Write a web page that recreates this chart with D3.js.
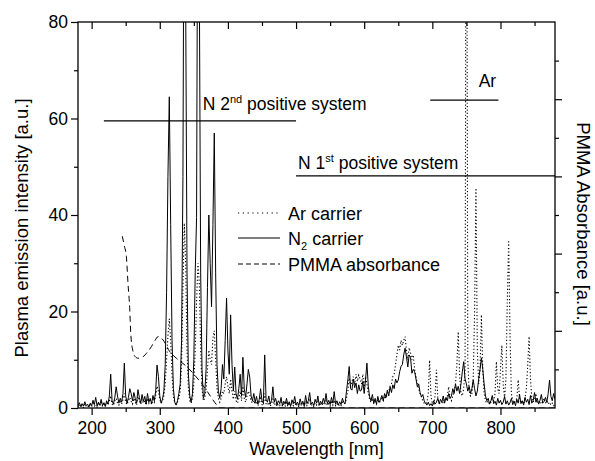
<!DOCTYPE html>
<html>
<head>
<meta charset="utf-8">
<script src="https://cdn.jsdelivr.net/npm/d3@7"></script>
<style>
  body { margin: 0; background: #fff; }
  svg { display: block; font-family: "Liberation Sans", Arial, sans-serif; }
</style>
</head>
<body>
<svg id="chart" width="595" height="461"></svg>
<script>
// wavelength [nm], intensity [a.u.]
let n2Carrier = [
  [180,0.6],[182,1.1],[184,0.3],[186,0.9],[188,0.4],[190,1.3],[192,0.5],[194,0.8],[196,0.2],[198,1.0],
  [200,0.5],[202,1.6],[204,0.7],[206,2.2],[208,0.4],[210,1.2],[212,0.6],[214,1.8],[216,0.5],[218,1.1],
  [220,0.3],[222,1.5],[224,0.8],[226,2.5],[228,7.0],[230,1.5],[232,0.8],[234,2.2],[236,4.4],[238,2.5],
  [240,1.0],[242,2.0],[244,1.2],[246,3.0],[248,9.3],[250,2.5],[252,1.0],[254,2.2],[256,4.0],[258,3.0],
  [260,1.5],[262,3.2],[264,2.0],[266,1.0],[268,3.8],[270,2.2],[272,1.0],[274,2.8],[276,1.4],[278,2.4],
  [280,0.8],[282,3.0],[284,1.2],[286,2.0],[288,0.9],[290,2.6],[292,1.5],[294,3.5],[296,8.9],[298,6.5],
  [300,2.5],[302,1.0],[304,1.8],[306,3.5],[308,9],[310,24],[312,48],[314,64.5],[316,38],[318,14],
  [320,4],[322,1.2],[324,0.6],[326,1.5],[328,3],[330,5],[332,14],[334,48],[336,130],[338,85],
  [340,28],[342,7],[344,2.5],[346,1.2],[348,3],[350,10],[352,28],[354,39.5],[356,125],[358,90],
  [360,28],[362,8],[364,2],[366,3],[368,8],[370,25],[372,40],[374,30],[376,21],[378,38],
  [380,57],[382,28],[384,9],[386,3.5],[388,2],[390,4],[392,9],[394,6],[396,14],[398,22.8],
  [400,12],[402,7],[404,19.3],[406,9],[408,3.5],[410,8.5],[412,3],[414,1.8],[416,4],[418,7],
  [420,2.5],[422,10.5],[424,4],[426,2.2],[428,5],[430,8],[432,6.4],[434,2.5],[436,1.5],[438,3],
  [440,1.2],[442,2.4],[444,0.8],[446,1.8],[448,4],[450,1.5],[452,1.0],[454,11],[456,1.8],[458,1.2],
  [460,2.5],[462,0.8],[464,1.6],[466,4.4],[468,1.2],[470,2.0],[472,0.6],[474,1.5],[476,0.9],[478,2.2],
  [480,0.5],[482,1.4],[484,0.8],[486,2.0],[488,0.6],[490,1.3],[492,0.4],[494,1.7],[496,0.9],[498,2.4],
  [500,0.7],[502,1.2],[504,0.5],[506,1.9],[508,0.8],[510,1.4],[512,0.4],[514,2.6],[516,0.9],[518,1.5],
  [520,3.2],[522,0.8],[524,1.2],[526,0.5],[528,1.8],[530,1.0],[532,2.5],[534,0.6],[536,1.4],[538,0.8],
  [540,2.0],[542,1.1],[544,3.0],[546,0.9],[548,1.6],[550,0.7],[552,2.2],[554,1.0],[556,3.4],[558,0.8],
  [560,1.5],[562,0.6],[564,1.3],[566,0.7],[568,2.0],[570,1.2],[572,0.9],[574,3.5],[576,5.8],[578,8.6],
  [580,4.0],[582,3.7],[584,6.0],[586,4.2],[588,5.2],[590,3.0],[592,4.8],[594,3.5],[596,3.7],[598,5.5],
  [600,3.0],[602,6.0],[604,9.3],[606,4.5],[608,2.3],[610,1.5],[612,2.8],[614,1.0],[616,2.0],[618,0.8],
  [620,2.4],[622,1.2],[624,1.8],[626,2.6],[628,1.5],[630,3.0],[632,2.2],[634,3.7],[636,2.5],[638,4.4],
  [640,3.2],[642,4.8],[644,4.0],[646,6.0],[648,5.2],[650,5.8],[652,7.5],[654,8.6],[656,9.0],[658,11.0],
  [660,12.4],[662,10.6],[664,8.5],[666,11.0],[668,10.5],[670,7.2],[672,8.0],[674,7.5],[676,6.0],[678,4.4],
  [680,5.0],[682,3.2],[684,2.3],[686,2.8],[688,1.5],[690,1.0],[692,0.6],[694,1.2],[696,0.5],[698,0.9],
  [700,0.4],[702,1.5],[704,0.8],[706,1.2],[708,2.0],[710,0.9],[712,1.8],[714,1.2],[716,2.5],[718,1.0],
  [720,2.2],[722,1.5],[724,3.0],[726,2.0],[728,2.5],[730,4.0],[732,3.0],[734,5.0],[736,3.5],[738,4.5],
  [740,3.0],[742,5.0],[744,7.5],[746,9.6],[748,6.0],[750,5.0],[752,3.5],[754,4.5],[756,3.0],[758,4.0],
  [760,5.8],[762,4.0],[764,2.5],[766,3.5],[768,6.0],[770,8.0],[772,10.4],[774,8.0],[776,5.0],[778,2.5],
  [780,1.5],[782,2.0],[784,0.8],[786,1.5],[788,2.6],[790,0.9],[792,1.4],[794,0.6],[796,2.0],[798,1.0],
  [800,1.6],[802,0.7],[804,1.2],[806,2.4],[808,0.8],[810,1.5],[812,0.6],[814,1.1],[816,2.0],[818,0.7],
  [820,1.4],[822,0.5],[824,1.8],[826,1.0],[828,2.8],[830,0.9],[832,1.5],[834,0.6],[836,2.2],[838,1.2],
  [840,1.8],[842,0.7],[844,2.6],[846,1.0],[848,1.5],[850,3.2],[852,1.2],[854,2.0],[856,0.8],[858,1.6],
  [860,2.8],[862,1.0],[864,1.4],[866,2.2],[868,1.2],[870,3.0],[872,5.8],[874,2.4],[876,1.5],[878,3.0],
  [880,1.8]
];

let arCarrier = [
  [180,0.3],[182,0.8],[184,0.2],[186,0.6],[188,0.1],[190,0.9],[192,0.3],[194,0.5],[196,0.2],[198,0.7],
  [200,0.3],[202,1.0],[204,0.4],[206,0.6],[208,0.2],[210,0.9],[212,0.5],[214,1.2],[216,0.3],[218,0.8],
  [220,0.4],[222,1.1],[224,0.6],[226,1.4],[228,2.5],[230,0.8],[232,0.5],[234,1.5],[236,2.0],[238,1.0],
  [240,0.6],[242,1.3],[244,0.8],[246,1.8],[248,3.0],[250,1.2],[252,0.7],[254,1.5],[256,2.2],[258,1.4],
  [260,0.8],[262,2.0],[264,1.2],[266,0.6],[268,2.4],[270,1.5],[272,0.8],[274,1.8],[276,1.0],[278,1.5],
  [280,0.6],[282,2.0],[284,1.0],[286,1.6],[288,0.7],[290,1.8],[292,1.2],[294,2.5],[296,4.5],[298,3.5],
  [300,1.8],[302,1.0],[304,1.5],[306,2.5],[308,5],[310,10],[312,15],[314,18.5],[316,14],[318,7],
  [320,2.5],[322,1.0],[324,0.8],[326,1.2],[328,2.0],[330,3.5],[332,9],[334,25],[336,38.3],[338,30],
  [340,12],[342,4],[344,1.5],[346,1.0],[348,2.0],[350,5],[352,12],[354,22],[356,30],[358,26],
  [360,12],[362,4],[364,1.5],[366,2.0],[368,4],[370,8],[372,12],[374,10],[376,9],[378,14.5],
  [380,16],[382,10],[384,4],[386,2],[388,1.2],[390,2.0],[392,3.5],[394,3.0],[396,5],[398,6.5],
  [400,4.5],[402,3.0],[404,6.0],[406,3.5],[408,1.8],[410,3.5],[412,1.5],[414,1.0],[416,2.0],[418,3.5],
  [420,1.5],[422,4.5],[424,2.0],[426,1.2],[428,2.5],[430,3.5],[432,2.8],[434,1.5],[436,1.0],[438,1.6],
  [440,0.8],[442,1.4],[444,0.5],[446,1.1],[448,2.0],[450,0.7],[452,0.5],[454,3.0],[456,0.9],[458,0.6],
  [460,1.2],[462,0.4],[464,0.9],[466,1.8],[468,0.6],[470,1.0],[472,0.3],[474,0.8],[476,0.5],[478,1.2],
  [480,0.3],[482,0.9],[484,0.4],[486,1.1],[488,0.3],[490,0.8],[492,0.2],[494,1.0],[496,0.5],[498,1.3],
  [500,0.4],[502,0.8],[504,0.3],[506,1.1],[508,0.5],[510,0.9],[512,0.2],[514,1.4],[516,0.5],[518,0.9],
  [520,1.6],[522,0.4],[524,0.8],[526,0.3],[528,1.0],[530,0.6],[532,1.3],[534,0.4],[536,0.8],[538,0.5],
  [540,1.2],[542,0.6],[544,1.5],[546,0.5],[548,0.9],[550,0.4],[552,1.2],[554,0.6],[556,1.6],[558,0.5],
  [560,0.9],[562,0.4],[564,0.8],[566,0.5],[568,1.2],[570,0.8],[572,1.0],[574,2.0],[576,3.5],[578,6.2],
  [580,4.5],[582,5.5],[584,6.5],[586,5.0],[588,7.0],[590,5.5],[592,6.8],[594,6.0],[596,5.0],[598,7.0],
  [600,4.0],[602,6.5],[604,5.0],[606,3.0],[608,1.8],[610,1.2],[612,2.0],[614,1.0],[616,1.5],[618,0.8],
  [620,1.8],[622,1.0],[624,1.5],[626,2.0],[628,1.5],[630,2.5],[632,2.0],[634,3.0],[636,3.5],[638,4.5],
  [640,5.0],[642,6.5],[644,7.0],[646,9.0],[648,11.0],[650,13.0],[652,12.0],[654,14.0],[656,13.0],[658,14.0],
  [660,14.8],[662,12.0],[664,10.0],[666,12.5],[668,11.4],[670,10.0],[672,11.0],[674,8.0],[676,6.5],[678,5.0],
  [680,4.0],[682,3.0],[684,2.3],[686,1.5],[688,1.0],[690,0.8],[692,1.2],[694,3.0],[696,9.9],[698,2.5],
  [700,1.0],[702,0.8],[704,2.5],[706,7.9],[708,2.0],[710,1.0],[712,0.8],[714,1.5],[716,1.0],[718,2.0],
  [720,1.5],[722,2.5],[724,4.4],[726,2.0],[728,1.5],[730,2.5],[732,3.5],[734,5.0],[736,9.0],[738,15.8],
  [740,7.0],[742,3.0],[744,2.5],[746,4.0],[748,8.0],[750,150],[752,10],[754,3.5],[756,2.5],[758,3.0],
  [760,6.0],[762,20.0],[764,45.6],[766,12.0],[768,5.0],[770,8.0],[772,19.3],[774,8.0],[776,3.0],[778,1.5],
  [780,1.0],[782,1.5],[784,0.8],[786,1.2],[788,2.0],[790,1.5],[792,3.0],[794,9.6],[796,4.0],[798,3.0],
  [800,8.0],[802,13.0],[804,5.0],[806,2.0],[808,6.0],[810,22.0],[812,34.8],[814,15.0],[816,3.0],[818,1.5],
  [820,1.0],[822,1.5],[824,2.0],[826,5.8],[828,2.0],[830,1.0],[832,1.5],[834,0.8],[836,2.0],[838,4.0],
  [840,9.0],[842,14.8],[844,6.0],[846,2.0],[848,1.2],[850,1.8],[852,3.0],[854,1.2],[856,1.0],[858,1.5],
  [860,0.8],[862,1.2],[864,2.0],[866,1.0],[868,1.5],[870,0.8],[872,1.2],[874,0.6],[876,1.0],[878,0.5],
  [880,0.8]
];

// wavelength [nm], PMMA absorbance (right axis, arbitrary units)
let pmmaAbsorbance = [
  [245,0.445],[248,0.42],[251,0.392],[253.4,0.322],[256,0.254],[257.4,0.194],[260.8,0.146],
  [264,0.133],[268,0.129],[275.5,0.133],[282,0.145],[287.7,0.159],[293,0.175],[297.5,0.185],
  [301,0.183],[305,0.176],[314.7,0.146],[325,0.128],[339,0.108],[358.8,0.069],[370,0.042],
  [378,0.021],[384,0.007],[388,0],[500,0],[700,0],[880,0]
];

// emission systems marked above the spectrum: label, from nm, to nm, intensity level
let systemNames = ["N 2nd positive system", "N 1st positive system", "Ar"];
let systemFrom = [218, 500, 697];
let systemTo = [500, 880, 797];
let systemLevel = [59.5, 48.1, 63.8];

let xMajorTicks = [200, 300, 400, 500, 600, 700, 800];
let xMinorTicks = [250, 350, 450, 550, 650, 750, 850];
let yMajorTicks = [0, 20, 40, 60, 80];
let yMinorTicks = [10, 30, 50, 70];
let absMajorTicks = [0.2, 0.4, 0.6, 0.8];
let absMinorTicks = [0.1, 0.3, 0.5, 0.7, 0.9];

let svg = d3.select("#chart");

let x = d3.scaleLinear().domain([180, 880]).range([78, 555]);
let y = d3.scaleLinear().domain([0, 80]).range([408, 22]);
let yAbs = d3.scaleLinear().domain([0, 1]).range([408, 22]);

let plotLeft = x.range()[0], plotRight = x.range()[1];
let plotTop = y.range()[1], plotBottom = y.range()[0];

svg.append("defs").append("clipPath")
    .attr("id", "plot-clip")
  .append("rect")
    .attr("x", plotLeft).attr("y", plotTop)
    .attr("width", plotRight - plotLeft).attr("height", plotBottom - plotTop);

function tidy(g) {
    g.attr("font-family", null).attr("font-size", 17.5);
    g.select(".domain").remove();
    g.selectAll("line").attr("stroke", "#000").attr("stroke-width", 1.2);
    g.selectAll("text").attr("fill", "#000");
}

// bottom axis (ticks outward)
svg.append("g").attr("transform", `translate(0,${plotBottom})`)
    .call(d3.axisBottom(x).tickValues(xMajorTicks).tickSize(7).tickPadding(7).tickFormat(d3.format("d")))
    .call(tidy);
svg.append("g").attr("transform", `translate(0,${plotBottom})`)
    .call(d3.axisBottom(x).tickValues(xMinorTicks).tickSize(4).tickFormat(""))
    .call(tidy);

// top axis (ticks inward)
svg.append("g").attr("transform", `translate(0,${plotTop})`)
    .call(d3.axisTop(x).tickValues(xMajorTicks).tickSize(-7).tickFormat(""))
    .call(tidy);
svg.append("g").attr("transform", `translate(0,${plotTop})`)
    .call(d3.axisTop(x).tickValues(xMinorTicks).tickSize(-4).tickFormat(""))
    .call(tidy);

// left axis
svg.append("g").attr("transform", `translate(${plotLeft},0)`)
    .call(d3.axisLeft(y).tickValues(yMajorTicks).tickSize(7).tickPadding(3))
    .call(tidy);
svg.append("g").attr("transform", `translate(${plotLeft},0)`)
    .call(d3.axisLeft(y).tickValues(yMinorTicks).tickSize(4).tickFormat(""))
    .call(tidy);

// right axis, absorbance, no labels
svg.append("g").attr("transform", `translate(${plotRight},0)`)
    .call(d3.axisRight(yAbs).tickValues(absMajorTicks).tickSize(7).tickFormat(""))
    .call(tidy);
svg.append("g").attr("transform", `translate(${plotRight},0)`)
    .call(d3.axisRight(yAbs).tickValues(absMinorTicks).tickSize(4).tickFormat(""))
    .call(tidy);

// frame
svg.append("rect")
    .attr("x", plotLeft).attr("y", plotTop)
    .attr("width", plotRight - plotLeft).attr("height", plotBottom - plotTop)
    .attr("fill", "none").attr("stroke", "#000").attr("stroke-width", 1.3);

// spectra
let plot = svg.append("g").attr("clip-path", "url(#plot-clip)");

let lineI = d3.line().x(d => x(d[0])).y(d => y(d[1]));
let lineA = d3.line().x(d => x(d[0])).y(d => yAbs(d[1])).curve(d3.curveMonotoneX);

plot.append("path").datum(pmmaAbsorbance)
    .attr("d", lineA)
    .attr("fill", "none").attr("stroke", "#000").attr("stroke-width", 1)
    .attr("stroke-dasharray", "6,4");

plot.append("path").datum(arCarrier)
    .attr("d", lineI)
    .attr("fill", "none").attr("stroke", "#000").attr("stroke-width", 1.1)
    .attr("stroke-dasharray", "1.2,2.2");

plot.append("path").datum(n2Carrier)
    .attr("d", lineI)
    .attr("fill", "none").attr("stroke", "#000").attr("stroke-width", 1)
    .attr("stroke-linejoin", "round");

// emission system markers
systemNames.forEach((name, i) => {
    svg.append("line")
        .attr("x1", x(systemFrom[i])).attr("x2", x(systemTo[i]))
        .attr("y1", y(systemLevel[i])).attr("y2", y(systemLevel[i]))
        .attr("stroke", "#000").attr("stroke-width", 1.4);
});

let n2nd = svg.append("text")
    .attr("x", x(363)).attr("y", y(systemLevel[0]) - 11)
    .attr("font-size", 17.5);
n2nd.append("tspan").text("N 2");
n2nd.append("tspan").attr("font-size", 11).attr("dy", -7).text("nd");
n2nd.append("tspan").attr("dy", 7).text(" positive system");

let n1st = svg.append("text")
    .attr("x", x(503)).attr("y", y(systemLevel[1]) - 7)
    .attr("font-size", 17.5);
n1st.append("tspan").text("N 1");
n1st.append("tspan").attr("font-size", 11).attr("dy", -7).text("st");
n1st.append("tspan").attr("dy", 7).text(" positive system");

svg.append("text")
    .attr("x", x(768)).attr("y", y(systemLevel[2]) - 13)
    .attr("font-size", 17.5)
    .text(systemNames[2]);

// legend
let legend = svg.append("g").attr("font-size", 18);
let legendRows = [
    {dash: "1.2,3.6", y: 213},
    {dash: null, y: 238},
    {dash: "5,3", y: 264}
];
legendRows.forEach(r => {
    legend.append("line")
        .attr("x1", 238).attr("x2", 280)
        .attr("y1", r.y).attr("y2", r.y)
        .attr("stroke", "#000").attr("stroke-width", 1.1)
        .attr("stroke-dasharray", r.dash);
});
legend.append("text").attr("x", 288).attr("y", 213 + 6.5).text("Ar carrier");
let n2Label = legend.append("text").attr("x", 288).attr("y", 238 + 6.5);
n2Label.append("tspan").text("N");
n2Label.append("tspan").attr("font-size", 11).attr("dy", 5).text("2");
n2Label.append("tspan").attr("dy", -5).text(" carrier");
legend.append("text").attr("x", 288).attr("y", 264 + 6.5).text("PMMA absorbance");

// axis titles
svg.append("text")
    .attr("x", (plotLeft + plotRight) / 2).attr("y", 455)
    .attr("text-anchor", "middle").attr("font-size", 18)
    .text("Wavelength [nm]");

svg.append("text")
    .attr("transform", `translate(28,228) rotate(-90)`)
    .attr("text-anchor", "middle").attr("font-size", 18.5)
    .text("Plasma emission intensity [a.u.]");

svg.append("text")
    .attr("transform", `translate(577,224) rotate(90)`)
    .attr("text-anchor", "middle").attr("font-size", 18.5)
    .text("PMMA Absorbance [a.u.]");
</script>
</body>
</html>
